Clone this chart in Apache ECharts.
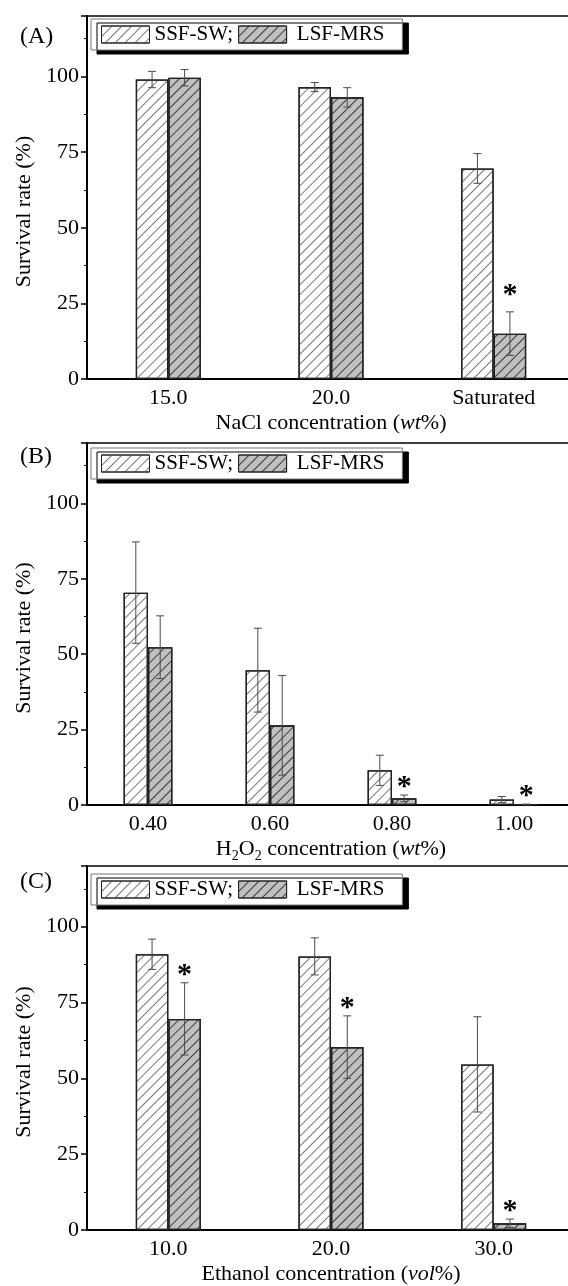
<!DOCTYPE html>
<html>
<head>
<meta charset="utf-8">
<script src="https://cdn.jsdelivr.net/npm/echarts@6/dist/echarts.min.js"></script>
<style>
html,body{margin:0;padding:0;background:#fff;overflow:hidden;}
#chart{width:568px;height:1286px;}
</style>
</head>
<body>
<div id="chart"></div>
<script>
// ---- Data ----
const catsA = ['15.0', '20.0', 'Saturated'];
const ssfA = [99.0, 96.5, 69.6];
const ssfErrA = [2.7, 1.5, 4.9];
const lsfA = [99.6, 93.1, 15.0];
const lsfErrA = [2.7, 3.2, 7.2];
const sigA = [false, false, true];

const catsB = ['0.40', '0.60', '0.80', '1.00'];
const ssfB = [70.4, 44.7, 11.5, 1.8];
const ssfErrB = [16.8, 13.9, 5.0, 1.0];
const lsfB = [52.3, 26.4, 2.2, 0.2];
const lsfErrB = [10.4, 16.5, 1.1, 0.1];
const sigB = [false, false, true, true];

const catsC = ['10.0', '20.0', '30.0'];
const ssfC = [90.9, 90.2, 54.6];
const ssfErrC = [5.0, 6.1, 15.7];
const lsfC = [69.6, 60.3, 2.2];
const lsfErrC = [11.9, 10.3, 1.4];
const sigC = [true, true, true];

const yTicks = {min: 0, max: 120, interval: 25};
const seriesNames = ['SSF-SW', 'LSF-MRS'];
const yTitle = 'Survival rate (%)';
const panelLabels = ['(A)', '(B)', '(C)'];

// ---- Styles ----
const FONT = "'Liberation Serif', 'Times New Roman', serif";
const decalSSF = {symbol: 'rect', symbolSize: 1, dashArrayX: [1, 0], dashArrayY: [1, 6], rotation: -Math.PI / 4, color: '#7a7a7a'};
const decalLSF = {symbol: 'rect', symbolSize: 1, dashArrayX: [1, 0], dashArrayY: [1, 6], rotation: -Math.PI / 4, color: '#3c3c3c'};

const panels = [
  {cats: catsA, ssf: ssfA, ssfErr: ssfErrA, lsf: lsfA, lsfErr: lsfErrA, sig: sigA,
   grid: {top: 16, height: 363}, legendTop: 19, labelY: 38, starOff: 23, nameGap: 33,
   xname: '{a|NaCl concentration (}{i|wt}{a|%)}'},
  {cats: catsB, ssf: ssfB, ssfErr: ssfErrB, lsf: lsfB, lsfErr: lsfErrB, sig: sigB,
   grid: {top: 443, height: 362}, legendTop: 448, labelY: 458, starOff: 14, nameGap: 30,
   xname: '{a|H}{s|2}{a|O}{s|2}{a| concentration (}{i|wt}{a|%)}'},
  {cats: catsC, ssf: ssfC, ssfErr: ssfErrC, lsf: lsfC, lsfErr: lsfErrC, sig: sigC,
   grid: {top: 866, height: 364}, legendTop: 874, labelY: 883, starOff: 14, nameGap: 33,
   xname: '{a|Ethanol concentration (}{i|vol}{a|%)}'}
];

const rich = {
  a: {fontFamily: FONT, fontSize: 22, color: '#000', verticalAlign: 'middle'},
  i: {fontFamily: FONT, fontSize: 22, color: '#000', fontStyle: 'italic', verticalAlign: 'middle'},
  s: {fontFamily: FONT, fontSize: 14, color: '#000', verticalAlign: 'bottom', padding: [14, 0, 0, 0]}
};

const grids = [], xAxes = [], yAxes = [], series = [], legends = [], graphics = [];

function errItem(params, api) {
  const cat = api.value(0), v = api.value(1), e = api.value(2), side = api.value(3);
  const band = api.size([1, 0])[0];
  const x = api.coord([cat, v])[0] + side * band * 0.1;
  const yt = api.coord([cat, v + e])[1];
  const yb = api.coord([cat, Math.max(v - e, 0)])[1];
  const cap = 4;
  const st = {stroke: '#4a4a4a', lineWidth: 1};
  return {type: 'group', children: [
    {type: 'line', shape: {x1: x, y1: yt, x2: x, y2: yb}, style: st},
    {type: 'line', shape: {x1: x - cap, y1: yt, x2: x + cap, y2: yt}, style: st},
    {type: 'line', shape: {x1: x - cap, y1: yb, x2: x + cap, y2: yb}, style: st}
  ]};
}

panels.forEach((p, k) => {
  grids.push({left: 87, width: 488, top: p.grid.top, height: p.grid.height, show: true,
    outerBoundsMode: 'none', containLabel: false,
    borderColor: '#000', borderWidth: 1.5, backgroundColor: 'transparent'});
  xAxes.push({type: 'category', gridIndex: k, data: p.cats,
    axisLine: {lineStyle: {color: '#000', width: 2}},
    axisTick: {alignWithLabel: true, length: 6, lineStyle: {color: '#000', width: 1.5}},
    axisLabel: {fontFamily: FONT, fontSize: 22, color: '#000', margin: 8},
    name: p.xname, nameLocation: 'middle', nameGap: p.nameGap,
    nameTextStyle: {rich: rich}});
  yAxes.push({type: 'value', gridIndex: k, min: yTicks.min, max: yTicks.max, interval: yTicks.interval,
    axisLine: {show: true, lineStyle: {color: '#000', width: 2}},
    axisTick: {show: true, length: 6, lineStyle: {color: '#000', width: 1.5}},
    minorTick: {show: true, splitNumber: 2, length: 3, lineStyle: {color: '#000', width: 1}},
    splitLine: {show: false},
    axisLabel: {fontFamily: FONT, fontSize: 22, color: '#000', margin: 8, showMaxLabel: false},
    name: yTitle, nameLocation: 'middle', nameGap: 51,
    nameTextStyle: {fontFamily: FONT, fontSize: 22, color: '#000', padding: [0, 28, 0, 0]}});
  series.push({type: 'bar', name: seriesNames[0], xAxisIndex: k, yAxisIndex: k, data: p.ssf,
    barWidth: '20%', barGap: '0%',
    itemStyle: {color: '#ffffff', borderColor: '#222', borderWidth: 1.3, decal: decalSSF}});
  series.push({type: 'bar', name: seriesNames[1], xAxisIndex: k, yAxisIndex: k, data: p.lsf,
    barWidth: '20%', barGap: '0%',
    itemStyle: {color: '#c0c0c0', borderColor: '#222', borderWidth: 1.3, decal: decalLSF}});
  series.push({type: 'custom', xAxisIndex: k, yAxisIndex: k, z: 5, silent: true,
    renderItem: errItem,
    data: p.ssf.map((v, i) => [i, v, p.ssfErr[i], -1]).concat(p.lsf.map((v, i) => [i, v, p.lsfErr[i], 1]))});
  const off = p.starOff;
  series.push({type: 'custom', xAxisIndex: k, yAxisIndex: k, z: 6, silent: true,
    renderItem: function (params, api) {
      const cat = api.value(0), top = api.value(1);
      const band = api.size([1, 0])[0];
      const c = api.coord([cat, top]);
      return {type: 'text', style: {text: '*', x: c[0] + band * 0.1, y: c[1] - off + 6,
        textAlign: 'center', textVerticalAlign: 'middle', font: 'bold 30px ' + FONT, fill: '#000'}};
    },
    data: p.lsf.map((v, i) => [i, v + p.lsfErr[i], p.sig[i] ? 1 : 0]).filter(d => d[2] === 1)});
  legends.push({top: p.legendTop, left: 91, orient: 'horizontal', itemGap: 5,
    itemWidth: 48, itemHeight: 17, padding: [5, 18, 5, 10],
    backgroundColor: '#fff', borderColor: '#777', borderWidth: 1,
    shadowColor: '#000', shadowBlur: 0, shadowOffsetX: 6, shadowOffsetY: 4,
    icon: 'rect', data: seriesNames, selectedMode: false,
    formatter: n => n === 'SSF-SW' ? 'SSF-SW;' : ' ' + n,
    itemStyle: {borderColor: '#222', borderWidth: 1},
    textStyle: {fontFamily: FONT, fontSize: 21, color: '#000'}});
  graphics.push({type: 'text', left: 20, top: p.labelY - 13,
    style: {text: panelLabels[k], font: '24px ' + FONT, fill: '#000'}});
});

const chart = echarts.init(document.getElementById('chart'), null, {renderer: 'canvas'});
chart.setOption({
  animation: false,
  grid: grids, xAxis: xAxes, yAxis: yAxes, series: series, legend: legends, graphic: graphics
});
</script>
</body>
</html>
